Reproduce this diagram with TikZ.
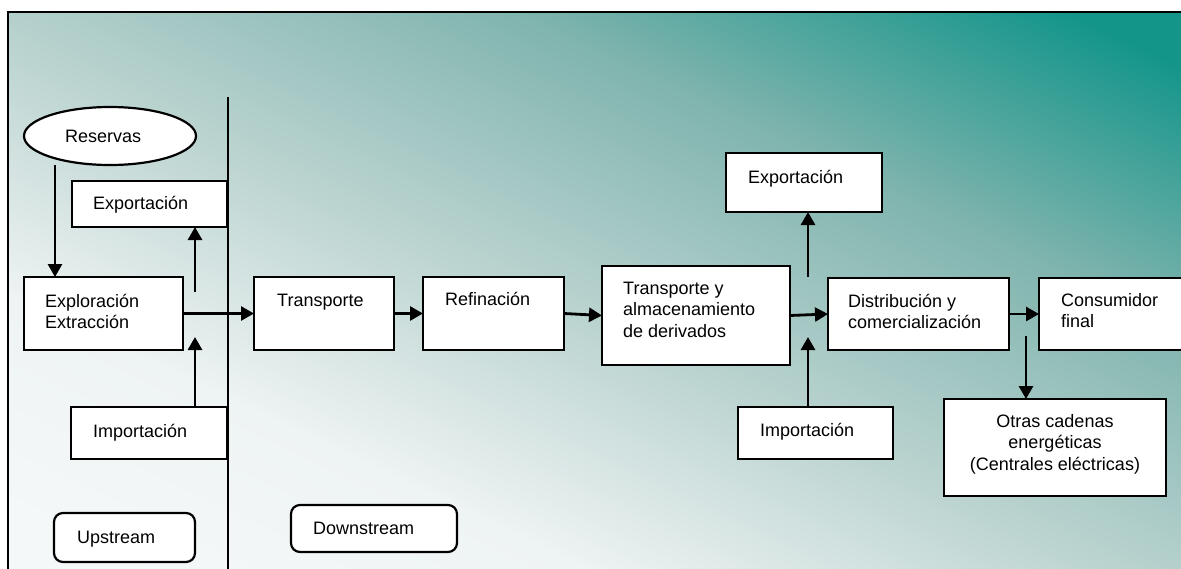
\documentclass[tikz,border=0pt]{standalone}
\usepackage{fontspec}
\setmainfont{Liberation Sans}
\usetikzlibrary{arrows.meta,shapes.geometric,fit}
\pgfdeclarehorizontalshading{bgsh}{100bp}{color(0bp)=(rgb,255:red,245;green,248;blue,248);
  color(19.7bp)=(rgb,255:red,245;green,248;blue,248);
  color(33bp)=(rgb,255:red,238;green,243;blue,243);
  color(48.8bp)=(rgb,255:red,184;green,210;blue,206);
  color(54.2bp)=(rgb,255:red,165;green,200;blue,196);
  color(64.5bp)=(rgb,255:red,128;green,180;blue,174);
  color(80.3bp)=(rgb,255:red,19;green,149;blue,138);
  color(100bp)=(rgb,255:red,19;green,149;blue,138)}
\tikzset{
  box/.style={draw=black, line width=2.2pt, fill=white, inner sep=0pt, outer sep=0pt, rectangle},
  rbox/.style={box, rounded corners=9pt},
  txt/.style={inner sep=0pt, anchor=base west, align=left, font=\fontsize{18}{21.5}\selectfont},
  ctxt/.style={txt, anchor=base, align=center},
  arr/.style={line width=2.8pt, -{Triangle[length=13pt,width=14pt]}},
}
\begin{document}
\begin{tikzpicture}[x=1pt,y=-1pt]
\useasboundingbox (0,0) rectangle (1181,568);
\clip (0,0) rectangle (1181,568);
\shade[shading=bgsh, shading angle=64.63] (8,12) rectangle (1181,568);
\draw[line width=2.8pt] (1200,12) -- (8,12) -- (8,600);
\draw[line width=1.8pt] (228,97) -- (228,600);

% boxes
\node[draw=black, line width=2.2pt, fill=white, ellipse, inner sep=0pt, outer sep=0pt,
      minimum width=172pt, minimum height=58pt] (res) at (110,136) {};
\node[box, fit={(72,181) (227,227)}] (expL) {};
\node[box, fit={(24,277) (183,350)}] (expl) {};
\node[box, fit={(71,407) (227,459)}] (impL) {};
\node[rbox, fit={(54,513) (195,562)}] (up) {};
\node[rbox, fit={(291,505) (457,552)}] (down) {};
\node[box, fit={(254,277) (394,350)}] (trans) {};
\node[box, fit={(423,277) (564,350)}] (ref) {};
\node[box, fit={(602,266) (790,365)}] (talm) {};
\node[box, fit={(726,153) (882,212)}] (expR) {};
\node[box, fit={(828,278) (1009,350)}] (dist) {};
\node[box, fit={(738,407) (893,459)}] (impR) {};
\node[box, fit={(1039,278) (1210,350)}] (cons) {};
\node[box, fit={(944,399) (1166,496)}] (otras) {};

% texts (anchor = baseline of the last line)
\node[txt] (tres) at (65,142) {Reservas};
\node[txt] (texpL) at (93,209) {Exportación};
\node[txt] (texpl) at (45,328.5) {Exploración\\Extracción};
\node[txt] (timpL) at (93,437) {Importación};
\node[txt] (tup) at (77,543) {Upstream};
\node[txt] (tdown) at (313,534) {Downstream};
\node[txt] (ttrans) at (277,306) {Transporte};
\node[txt] (tref) at (445,305) {Refinación};
\node[txt] (ttalm) at (623,337) {Transporte y\\almacenamiento\\de derivados};
\node[txt] (texpR) at (748,183) {Exportación};
\node[txt] (tdist) at (848,328.5) {Distribución y\\comercialización};
\node[txt] (timpR) at (760,436) {Importación};
\node[txt] (tcons) at (1061,327.5) {Consumidor\\final};
\node[ctxt] (totras) at (1055,470) {Otras cadenas\\energéticas\\(Centrales eléctricas)};

% free ends
\coordinate (rA) at (55,0);
\coordinate (uL) at (195,292);
\coordinate (dL) at (195,337);
\coordinate (uR) at (808,277);
\coordinate (dR) at (808,337);
\coordinate (dO) at (1026,336);

% connectors
\draw[arr] (res.south -| rA) -- (expl.north -| rA);
\draw[arr] (uL) -- (uL |- expL.south);
\draw[arr] (dL |- impL.north) -- (dL);
\draw[arr] (expl.east) -- (trans.west);
\draw[arr] (trans.east) -- (ref.west);
\draw[arr] (ref.east) -- (talm.west);
\draw[arr] (talm.east) -- (dist.west);
\draw[arr] (uR) -- (uR |- expR.south);
\draw[arr] (dR |- impR.north) -- (dR);
\draw[arr] (dist.east) -- (dist.east -| cons.west);
\draw[arr] (dO) -- (dO |- otras.north);
\end{tikzpicture}
\end{document}
